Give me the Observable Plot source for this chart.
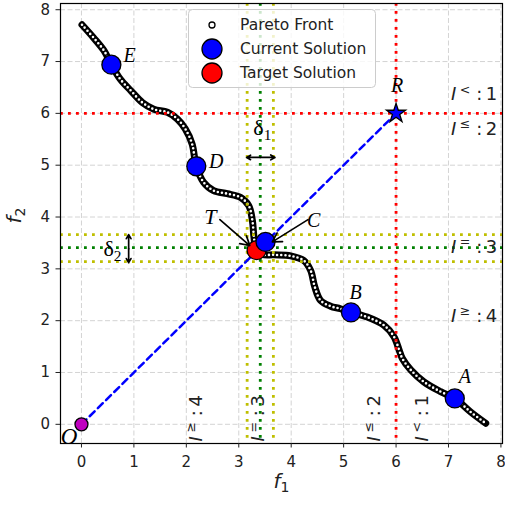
<!DOCTYPE html>
<html><head><meta charset="utf-8">
<script src="https://cdn.jsdelivr.net/npm/d3@7"></script>
<script src="https://cdn.jsdelivr.net/npm/@observablehq/plot@0.6"></script>
<style>body{margin:0;background:#fff}#chart{width:505px;height:506px}</style>
</head><body><div id="chart"></div>
<script>
// ---- data ----
const xTicks = [0, 1, 2, 3, 4, 5, 6, 7, 8];
const yTicks = [0, 1, 2, 3, 4, 5, 6, 7, 8];

const paretoF1 = [0.01,0.23,0.43,0.57,0.74,0.94,1.16,1.38,1.64,1.83,1.98,2.11,2.19,2.33,2.52,2.78,3.03,3.19,3.26,3.29,3.33,3.45,3.67,3.99,4.24,4.37,4.45,4.56,4.75,4.94,5.14,5.45,5.77,5.96,6.06,6.12,6.28,6.53,6.85,7.12,7.42,7.71];
const paretoF2 = [7.71,7.46,7.21,6.94,6.66,6.44,6.21,6.08,6.02,5.89,5.70,5.41,4.98,4.67,4.51,4.45,4.38,4.22,3.93,3.61,3.38,3.28,3.27,3.25,3.16,2.97,2.65,2.39,2.28,2.23,2.16,2.07,1.91,1.69,1.43,1.27,1.05,0.82,0.63,0.50,0.24,0.02];

const solNames = ["A", "B", "C", "D", "E"];
const solF1 = [7.12, 5.14, 3.51, 2.19, 0.57];
const solF2 = [0.50, 2.16, 3.52, 4.98, 6.94];
const solLabelF1 = [7.31, 5.23, 4.43, 2.57, 0.92];
const solLabelF2 = [0.92, 2.55, 3.93, 5.06, 7.11];

const targetF1 = [3.34];
const targetF2 = [3.36];
const targetLabelF1 = [2.46];
const targetLabelF2 = [4.0];

const refF1 = [6];
const refF2 = [6];
const originF1 = [0];
const originF2 = [0];

const greenX = [3.41], greenY = [3.41];
const yellowX = [3.16, 3.66], yellowY = [3.14, 3.66];

// annotation arrows: T and C
const arrowFromF1 = [2.64, 4.32];
const arrowFromF2 = [3.95, 3.95];
const arrowToF1 = [3.21, 3.64];
const arrowToF2 = [3.45, 3.52];

// delta annotations
const deltaNames = ["δ_{1}", "δ_{2}"];
const deltaLabelF1 = [3.45, 0.59];
const deltaLabelF2 = [5.71, 3.38];
const deltaCenterF1 = [3.41, 0.9];
const deltaCenterF2 = [5.15, 3.39];
const deltaEndF1 = [[3.15, 3.69], [0.9, 0.9]];
const deltaEndF2 = [[5.15, 5.15], [3.66, 3.12]];

// region labels
const rightLabels = ["*I*\u2009^{<} :\u20091", "*I*\u2009^{≤} :\u20092", "*I*\u2009^{=} :\u20093", "*I*\u2009^{≥} :\u20094"];
const rightLabelF2 = [6.36, 5.69, 3.42, 2.08];
const rightLabelF1 = 7.93;
const bottomLabels = ["*I*\u2009^{≥} :\u20094", "*I*\u2009^{=} :\u20093", "*I*\u2009^{≤} :\u20092", "*I*\u2009^{<} :\u20091"];
const bottomLabelF1 = [2.18, 3.38, 5.58, 6.50];
const bottomLabelF2 = -0.33;

const legendLabels = ["Pareto Front", "Current Solution", "Target Solution"];
const legendFills = ["white", "blue", "red"];
const legendR = [3, 10, 10];

// ---- derived tables ----
const pareto = paretoF1.map((x, i) => ({x, y: paretoF2[i]}));
const sols = solNames.map((n, i) => ({n, x: solF1[i], y: solF2[i], lx: solLabelF1[i], ly: solLabelF2[i]}));
const diag = [{x: originF1[0], y: originF2[0]}, {x: refF1[0], y: refF2[0]}];
const annArrows = arrowFromF1.map((d, i) => ({x1: d, y1: arrowFromF2[i], x2: arrowToF1[i], y2: arrowToF2[i]}));
const deltaArrows = [];
deltaCenterF1.forEach((cx, i) => {
  [0, 1].forEach(j => deltaArrows.push({x1: cx, y1: deltaCenterF2[i], x2: deltaEndF1[i][j], y2: deltaEndF2[i][j]}));
});
const deltas = deltaNames.map((t, i) => ({t, x: deltaLabelF1[i], y: deltaLabelF2[i]}));
const rights = rightLabels.map((t, i) => ({t, x: rightLabelF1, y: rightLabelF2[i]}));
const bottoms = bottomLabels.map((t, i) => ({t, x: bottomLabelF1[i], y: bottomLabelF2}));

const dotted = {strokeWidth: 2.8, strokeDasharray: "2.8,5.2"};
const serif = "Liberation Serif";

const chart = Plot.plot({
  width: 505, height: 506,
  marginLeft: 60, marginRight: 3, marginTop: 3, marginBottom: 63,
  x: {domain: [-0.4, 8.03]},
  y: {domain: [-0.37, 8.12]},
  style: {fontFamily: "DejaVu Sans", fontSize: "15px", color: "#222", background: "white", overflow: "visible"},
  marks: [
    Plot.gridX(xTicks, {stroke: "#aaa", strokeOpacity: 0.5, strokeDasharray: "5,2.5"}),
    Plot.gridY(yTicks, {stroke: "#aaa", strokeOpacity: 0.5, strokeDasharray: "5,2.5"}),
    // Pareto front
    Plot.line(pareto, {x: "x", y: "y", curve: "catmull-rom", stroke: "black", strokeWidth: 7, strokeLinecap: "round"}),
    Plot.line(pareto, {x: "x", y: "y", curve: "catmull-rom", stroke: "white", strokeWidth: 2.6, strokeLinecap: "round", strokeDasharray: "0,4.1"}),
    // reference lines
    Plot.ruleX(refF1, {stroke: "red", ...dotted}),
    Plot.ruleY(refF2, {stroke: "red", ...dotted}),
    Plot.ruleX(yellowX, {stroke: "#bfbf00", ...dotted}),
    Plot.ruleY(yellowY, {stroke: "#bfbf00", ...dotted}),
    Plot.ruleX(greenX, {stroke: "green", ...dotted}),
    Plot.ruleY(greenY, {stroke: "green", ...dotted}),
    // diagonal
    Plot.line(diag, {x: "x", y: "y", stroke: "blue", strokeWidth: 2.5, strokeDasharray: "7,4.5"}),
    // points
    Plot.dot(originF1.map((x, i) => ({x, y: originF2[i]})), {x: "x", y: "y", r: 6.5, fill: "#bf00bf", stroke: "black", strokeWidth: 1.3}),
    Plot.dot(targetF1.map((x, i) => ({x, y: targetF2[i]})), {x: "x", y: "y", r: 9.5, fill: "red", stroke: "black", strokeWidth: 1.3}),
    Plot.dot(sols, {x: "x", y: "y", r: 9.5, fill: "blue", stroke: "black", strokeWidth: 1.3}),
    Plot.dot(refF1.map((x, i) => ({x, y: refF2[i]})), {x: "x", y: "y", r: 6, symbol: "star", fill: "blue", stroke: "black", strokeWidth: 1.3}),
    // arrows
    Plot.arrow(annArrows, {x1: "x1", y1: "y1", x2: "x2", y2: "y2", stroke: "black", strokeWidth: 1.7, headLength: 9}),
    Plot.arrow(deltaArrows, {x1: "x1", y1: "y1", x2: "x2", y2: "y2", stroke: "black", strokeWidth: 1.7, headLength: 6}),
    // labels
    Plot.text(sols, {x: "lx", y: "ly", text: "n", fontFamily: serif, fontStyle: "italic", fontSize: 20, fill: "black"}),
    Plot.text(targetLabelF1.map((x, i) => ({x, y: targetLabelF2[i]})), {x: "x", y: "y", text: () => "T", fontFamily: serif, fontStyle: "italic", fontSize: 22, fill: "black"}),
    Plot.text(refF1.map((x, i) => ({x: x + 0.02, y: refF2[i] + 0.53})), {x: "x", y: "y", text: () => "R", fontFamily: serif, fontStyle: "italic", fontSize: 20, fill: "black"}),
    Plot.text(originF1.map((x, i) => ({x: x - 0.235, y: originF2[i] - 0.24})), {x: "x", y: "y", text: () => "O", fontFamily: serif, fontStyle: "italic", fontSize: 23, fill: "black", clip: true}),
    Plot.text(deltas, {x: "x", y: "y", text: "t", fontFamily: serif, fontSize: 22, fill: "black"}),
    Plot.text(rights, {x: "x", y: "y", text: "t", textAnchor: "end", fontSize: 18, fill: "#222"}),
    Plot.text(bottoms, {x: "x", y: "y", text: "t", textAnchor: "start", rotate: -90, fontSize: 18, fill: "#222"}),
    // frame & axes
    Plot.frame({stroke: "black", strokeWidth: 1.2}),
    Plot.axisX({ticks: xTicks, tickSize: 4.5, tickPadding: 8, label: null, fontSize: 15}),
    Plot.axisY({ticks: yTicks, tickSize: 4.5, tickPadding: 6, label: null, fontSize: 15}),
    Plot.text(["*f*_{1}"], {frameAnchor: "bottom", dy: 44, fontSize: 20, fill: "#222"}),
    Plot.text(["*f*_{2}"], {frameAnchor: "left", dx: -46, rotate: -90, fontSize: 20, fill: "#222"})
  ]
});

document.getElementById("chart").appendChild(chart);

// rich text: *x* italic, ^{x} superscript, _{x} subscript
function richify(svg) {
  const ns = "http://www.w3.org/2000/svg";
  svg.querySelectorAll("text").forEach(t => {
    const s = t.textContent;
    if (!/\*|\^\{|_\{/.test(s)) return;
    const size = parseFloat(getComputedStyle(t).fontSize);
    t.textContent = "";
    const re = /\*([^*]+)\*|\^\{([^}]*)\}|_\{([^}]*)\}|([^*^_]+)/g;
    let m, cur = 0;
    while ((m = re.exec(s))) {
      const ts = document.createElementNS(ns, "tspan");
      let target = 0;
      if (m[1] != null) { ts.textContent = m[1]; ts.setAttribute("font-style", "italic"); }
      else if (m[2] != null) { ts.textContent = m[2]; ts.setAttribute("font-size", size * 0.7); target = -size * 0.38; }
      else if (m[3] != null) { ts.textContent = m[3]; ts.setAttribute("font-size", size * 0.7); target = size * 0.22; }
      else ts.textContent = m[4];
      if (target !== cur) { ts.setAttribute("dy", target - cur); cur = target; }
      t.appendChild(ts);
    }
  });
}
richify(chart);

// legend
const lg = d3.select(chart).append("g").attr("font-family", "DejaVu Sans").attr("font-size", 15.5).attr("text-anchor", "start");
lg.append("rect").attr("x", 188.5).attr("y", 9.5).attr("width", 187).attr("height", 78).attr("rx", 4)
  .attr("fill", "white").attr("fill-opacity", 0.8).attr("stroke", "#ccc");
legendLabels.forEach((lab, i) => {
  const cy = 25 + i * 24;
  lg.append("circle").attr("cx", 212).attr("cy", cy).attr("r", legendR[i]).attr("fill", legendFills[i]).attr("stroke", "black").attr("stroke-width", 1.3);
  lg.append("text").attr("x", 240).attr("y", cy).attr("dy", "0.35em").attr("fill", "#222").text(lab);
});
</script>
</body></html>
